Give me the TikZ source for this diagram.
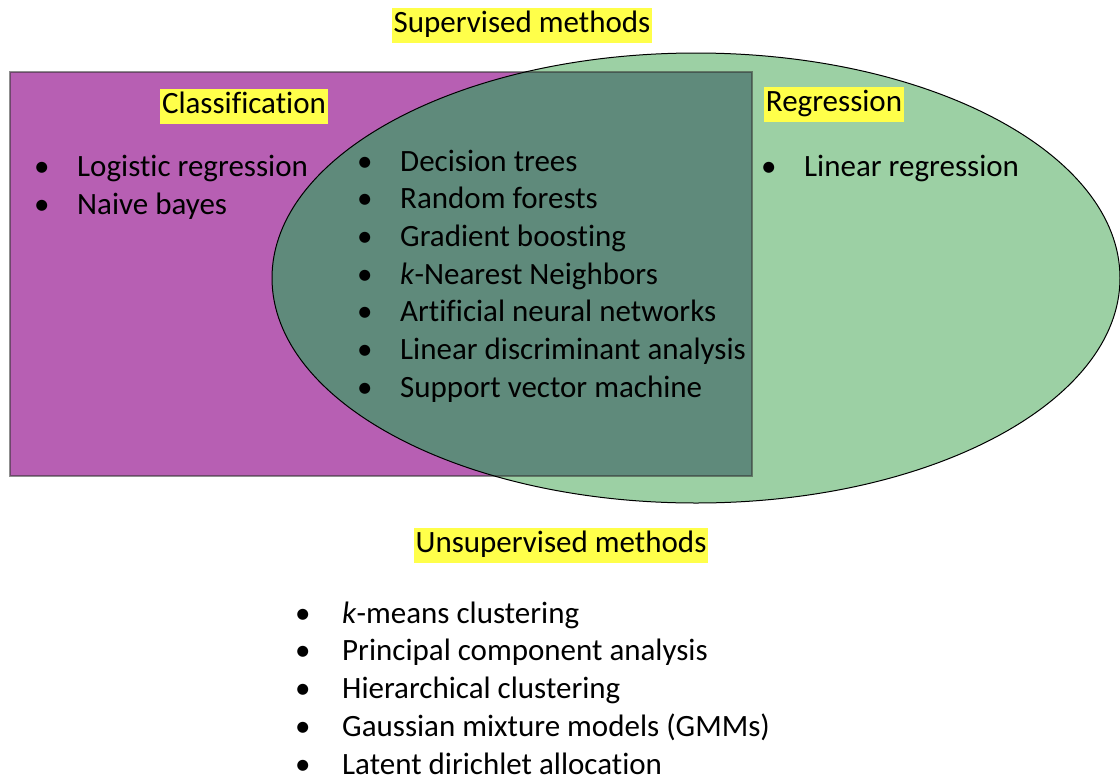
\documentclass[tikz,border=0pt]{standalone}
\usepackage{fontspec}
\setmainfont{Carlito}[Ligatures={NoCommon,NoRare,NoContextual}]
\usepackage{xcolor}
\usepackage{tikz}

\definecolor{classpurple}{HTML}{B75FB3}
\definecolor{regrgreen}{HTML}{9CD0A4}
\definecolor{bothteal}{HTML}{5F8A7B}
\definecolor{hilite}{HTML}{FFFF4A}

% one bullet line of a method list
\newcommand{\itm}[2][43pt]{\makebox[#1][l]{\textbullet}#2}

\begin{document}
\begin{tikzpicture}[x=1pt,y=-1pt,
    font=\fontsize{31}{37.7}\selectfont,
    heading/.style={fill=hilite,inner xsep=2pt,inner ysep=2pt,
      text height=23pt,text depth=8pt},
    methods/.style={anchor=west,align=left,inner sep=0pt}]
             \useasboundingbox (0,0) rectangle (1120,780);

             % the two sets
             \fill[regrgreen] (696,278) ellipse (424 and 225);
             \fill[classpurple] (10,72) rectangle (752,476);
             \begin{scope}
               \clip (696,278) ellipse (424 and 225);
               \fill[bothteal] (10,72) rectangle (752,476);
             \end{scope}
             \draw[black!80,draw opacity=.55,line width=1.2pt] (10,72) rectangle (752,476);
             \draw[black,line width=1pt] (696,278) ellipse (424 and 225);

             % headings
             \node[heading] (supervised) at (522,25) {Supervised methods};
             \node[heading] (classification) at (244,106) {Classification};
             \node[heading] (regression) at (834,104) {Regression};
             \node[heading] (unsupervised) at (561,545) {Unsupervised methods};

             % lists
             \node[methods] (classonly) at (34,187) {\itm{Logistic regression}\\\itm{Naive bayes}};
             \node[methods] (both) at (357,276) {\itm{Decision trees}\\\itm{Random forests}\\
               \itm{Gradient boosting}\\\itm{\textit{k}-Nearest Neighbors}\\
               \itm{Artificial neural networks}\\\itm{Linear discriminant analysis}\\
               \itm{Support vector machine}};
             \node[methods] (regronly) at (761,168) {\itm{Linear regression}};
             \node[methods] (nolabels) at (295,688) {\itm[47pt]{\textit{k}-means clustering}\\
               \itm[47pt]{Principal component analysis}\\\itm[47pt]{Hierarchical clustering}\\
               \itm[47pt]{Gaussian mixture models (GMMs)}\\\itm[47pt]{Latent dirichlet allocation}};
\end{tikzpicture}
\end{document}
